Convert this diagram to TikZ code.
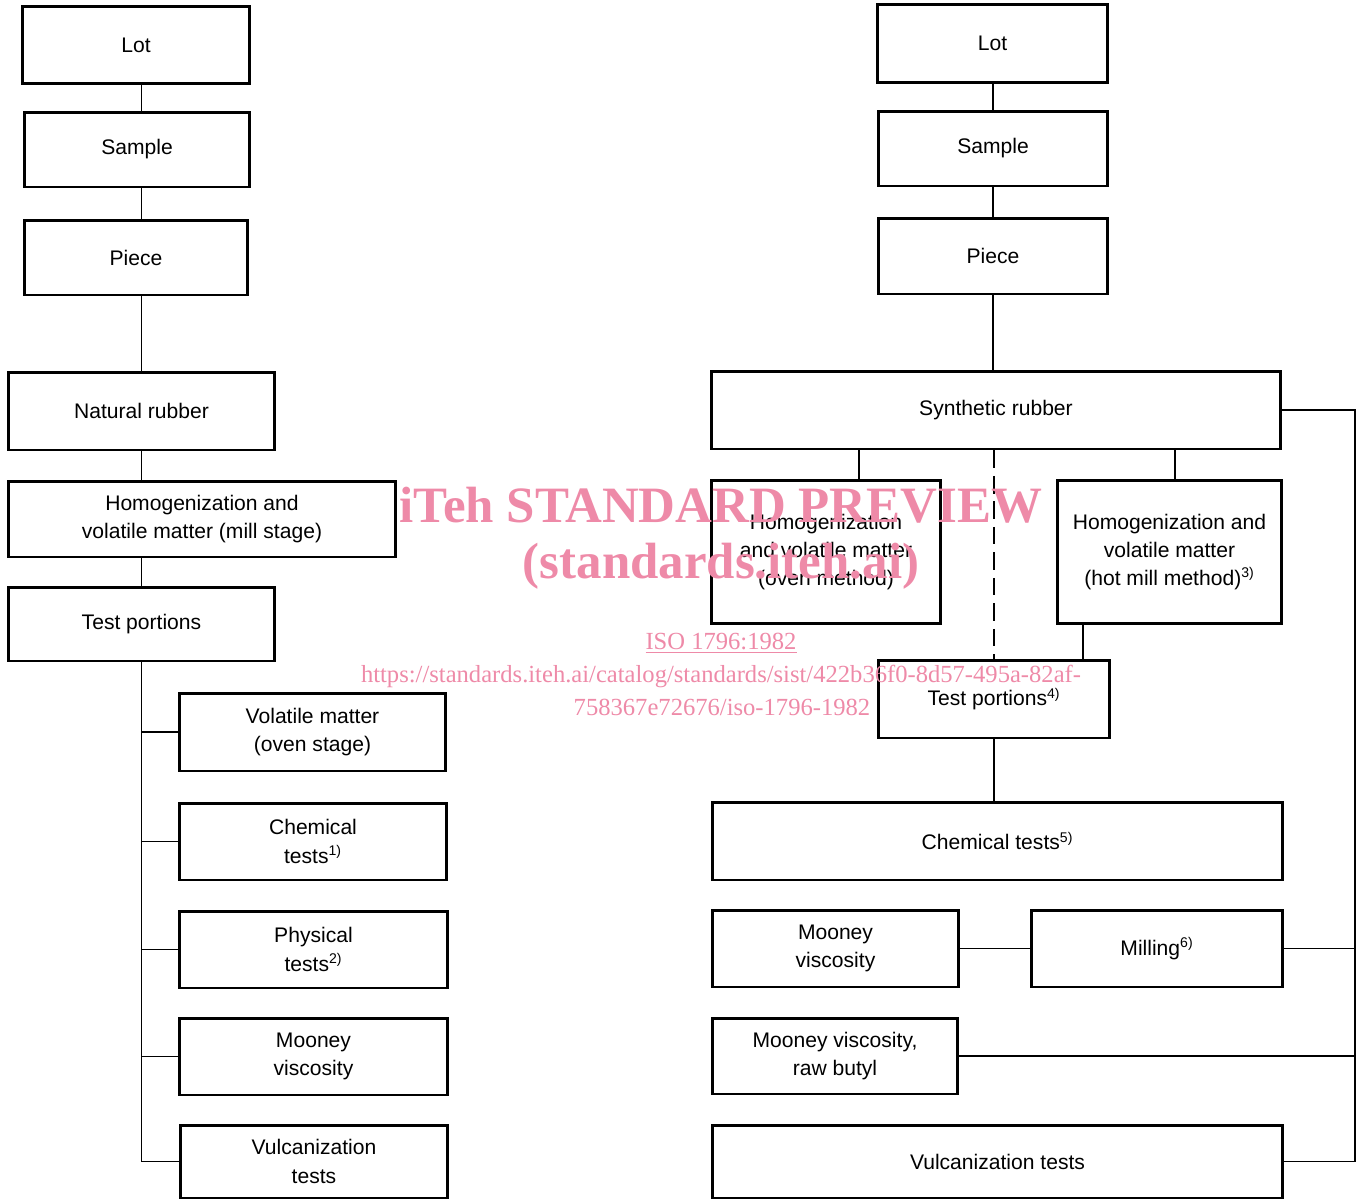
\documentclass[tikz,border=0pt]{standalone}
\usepackage{fontspec}
\setmainfont{Liberation Sans}
\newfontfamily\wmfont{Liberation Serif}
\usetikzlibrary{positioning,calc}
\definecolor{wmpink}{RGB}{238,138,168}
\tikzset{
  txt/.style={font=\fontsize{12}{16}\selectfont, text=black},
  stdbox/.style 2 args={
    txt, draw=black, line width=1.7pt, align=center, inner sep=2pt,
    minimum width=#1, minimum height=#2
  },
  link/.style={line width=1.1pt, draw=black},
  dashlink/.style={link, dash pattern=on 10pt off 4.5pt},
  wmbig/.style={font=\wmfont\bfseries\fontsize{29}{32}\selectfont, text=wmpink, inner sep=0pt},
  wmsmall/.style={font=\wmfont\fontsize{14}{16}\selectfont, text=wmpink, inner sep=0pt},
}

\begin{document}
\begin{tikzpicture}[x=0.02cm, y=-0.02cm]
    \useasboundingbox (0,0) rectangle (1357,1200);

    % natural rubber
    \node[stdbox={4.56cm}{1.56cm}] (lotL) at (136,45) {Lot};
    \node[stdbox={4.52cm}{1.5cm}] (sampleL) at (137,149.5) {Sample};
    \node[stdbox={4.48cm}{1.5cm}] (pieceL) at (136,257.5) {Piece};
    \node[stdbox={5.34cm}{1.56cm}] (natural) at (141.5,411) {Natural rubber};
    \node[stdbox={7.76cm}{1.52cm}] (homL) at (202,519) {Homogenization and\\volatile matter (mill stage)};
    \node[stdbox={5.34cm}{1.48cm}] (testL) at (141.5,624) {Test portions};

    \node[stdbox={5.34cm}{1.56cm}] (volL) at (312.5,732) {Volatile matter\\(oven stage)};
    \node[stdbox={5.36cm}{1.54cm}] (chemL) at (313,841.5) {Chemical\\tests\textsuperscript{1)}};
    \node[stdbox={5.38cm}{1.54cm}] (physL) at (313.5,949.5) {Physical\\tests\textsuperscript{2)}};
    \node[stdbox={5.38cm}{1.54cm}] (mooL) at (313.5,1056.5) {Mooney\\viscosity};
    \node[stdbox={5.36cm}{1.46cm}] (vulL) at (314,1161.5) {Vulcanization\\tests};

    % synthetic rubber
    \node[stdbox={4.62cm}{1.58cm}] (lotR) at (992.5,43.5) {Lot};
    \node[stdbox={4.6cm}{1.5cm}] (sampleR) at (993,148.5) {Sample};
    \node[stdbox={4.6cm}{1.52cm}] (pieceR) at (993,256) {Piece};
    \node[stdbox={11.4cm}{1.56cm}] (synth) at (996,410) {Synthetic rubber};
    \node[stdbox={4.6cm}{2.88cm}] (oven) at (826,552) {Homogenization\\and volatile matter\\(oven method)};
    \node[stdbox={4.5cm}{2.88cm}] (hotmill) at (1169.5,552) {Homogenization and\\volatile matter\\(hot mill method)\textsuperscript{3)}};
    \node[stdbox={4.64cm}{1.56cm}] (testR) at (994,699) {Test portions\textsuperscript{4)}};
    \node[stdbox={11.42cm}{1.56cm}] (chemR) at (997.5,841) {Chemical tests\textsuperscript{5)}};
    \node[stdbox={4.94cm}{1.54cm}] (mooR) at (835.5,948.5) {Mooney\\viscosity};
    \node[stdbox={5.04cm}{1.54cm}] (mill) at (1157,948.5) {Milling\textsuperscript{6)}};
    \node[stdbox={4.92cm}{1.52cm}] (butyl) at (835,1056) {Mooney viscosity,\\raw butyl};
    \node[stdbox={11.42cm}{1.46cm}] (vulR) at (997.5,1161.5) {Vulcanization tests};
    \coordinate (rail) at (1355,412);

    % left links
    \draw[link] (natural.north |- lotL.south) -- (natural.north |- sampleL.north);
    \draw[link] (natural.north |- sampleL.south) -- (natural.north |- pieceL.north);
    \draw[link] (natural.north |- pieceL.south) -- (natural.north);
    \draw[link] (natural.south) -- (natural.south |- homL.north);
    \draw[link] (testL.north |- homL.south) -- (testL.north);
    \draw[link] (testL.south) -- (testL.south |- vulL.west) -- (vulL.west);
    \foreach \b in {volL,chemL,physL,mooL}
      \draw[link] (testL.south |- \b.west) -- (\b.west);

    % right links
    \draw[link] (sampleR.north |- lotR.south) -- (sampleR.north);
    \draw[link] (sampleR.south) -- (pieceR.north);
    \draw[link] (pieceR.south) -- (pieceR.south |- synth.north);
    \draw[link] ([xshift=0.66cm]oven.north) -- ([xshift=0.66cm]oven.north |- synth.south);
    \draw[link] ([xshift=0.11cm]hotmill.north) -- ([xshift=0.11cm]hotmill.north |- synth.south);
    \draw[dashlink] (testR.north |- synth.south) -- (testR.north);
    \draw[link] ([xshift=-1.73cm]hotmill.south) -- ([xshift=-1.73cm]hotmill.south |- testR.north);
    \draw[link] (testR.south) -- (testR.south |- chemR.north);
    \draw[link] (mooR) -- (mill);
    \draw[link] (synth.east) -- (synth.east -| rail) -- (rail |- vulR.east) -- (vulR.east);
    \draw[link] (mill.east) -- (mill.east -| rail);
    \draw[link] (butyl.east) -- (butyl.east -| rail);

    % watermark
    \node[wmbig] (wmA) at (721,505) {iTeh STANDARD PREVIEW};
    \node[wmbig] (wmB) at (721,566) {(standards.iteh.ai)};
    \node[wmsmall] (wmC) at (721,643) {\underline{ISO 1796:1982}};
    \node[wmsmall] (wmD) at (721,676) {https://standards.iteh.ai/catalog/standards/sist/422b36f0-8d57-495a-82af-};
    \node[wmsmall] (wmE) at (722,707) {758367e72676/iso-1796-1982};
\end{tikzpicture}
\end{document}
